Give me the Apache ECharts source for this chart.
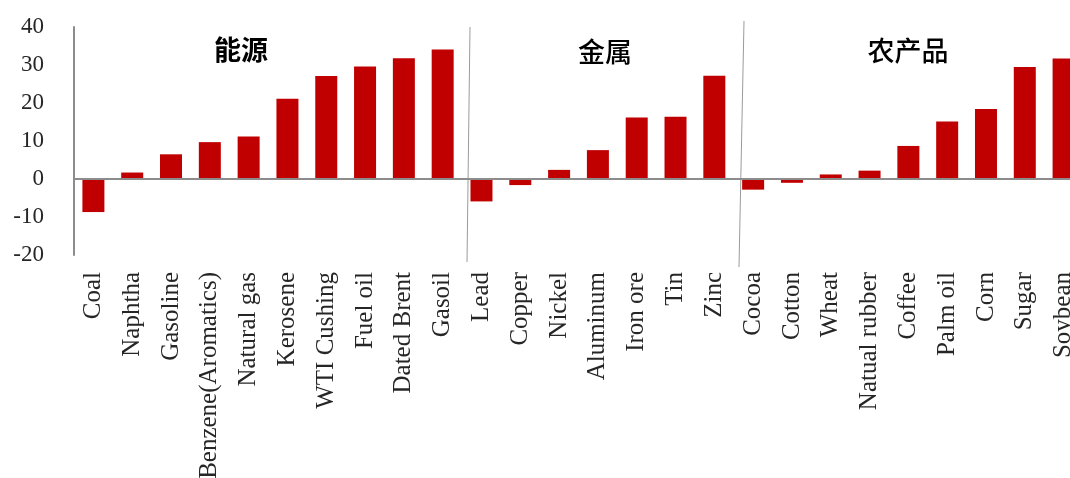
<!DOCTYPE html>
<html>
<head>
<meta charset="utf-8">
<script src="https://cdn.jsdelivr.net/npm/echarts@6/dist/echarts.min.js"></script>
<style>
html,body{margin:0;padding:0;background:#fff;overflow:hidden;width:1070px;height:478px;}
#chart{width:1090px;height:478px;}
</style>
</head>
<body>
<div id="chart"></div>
<script>
const categories = ['Coal','Naphtha','Gasoline','Benzene(Aromatics)','Natural gas','Kerosene','WTI Cushing','Fuel oil','Dated Brent','Gasoil',
  'Lead','Copper','Nickel','Aluminum','Iron ore','Tin','Zinc',
  'Cocoa','Cotton','Wheat','Natual rubber','Coffee','Palm oil','Corn','Sugar','Soybean'];
const values = [-8.7, 1.7, 6.5, 9.7, 11.2, 21.1, 27.1, 29.6, 31.8, 34.1,
  -5.9, -1.6, 2.4, 7.6, 16.2, 16.4, 27.2,
  -2.8, -1.0, 1.2, 2.2, 8.7, 15.1, 18.4, 29.5, 31.7];
const groupNames = ['能源','金属','农产品'];
const yTicks = [-20, -10, 0, 10, 20, 30, 40];

const serif = '"Liberation Serif","DejaVu Serif",serif';
const cjk = '"Noto Sans CJK SC",sans-serif';
const chart = echarts.init(document.getElementById('chart'), null, {renderer:'canvas'});
chart.setOption({
  animation:false,
  grid:{left:74, top:27, height:228, width:1009, containLabel:false, outerBoundsMode:'none'},
  xAxis:{
    type:'category', data:categories,
    axisLine:{show:false, onZero:false},
    axisTick:{show:false},
    axisLabel:{rotate:90, fontFamily:serif, fontSize:25, color:'#262626', margin:17, interval:0}
  },
  yAxis:{
    type:'value', min:yTicks[0], max:yTicks[yTicks.length-1], interval:10,
    axisLine:{show:true, lineStyle:{color:'#8c8c8c', width:2}},
    axisTick:{show:false},
    splitLine:{show:false},
    axisLabel:{fontFamily:serif, fontSize:23, color:'#262626', margin:30}
  },
  series:[{
    type:'bar', data:values, barWidth:22,
    itemStyle:{color:'#C00000'},
    markLine:{
      silent:true, symbol:['none','none'],
      label:{show:false},
      lineStyle:{color:'#8c8c8c', width:2, type:'solid'},
      data:[{yAxis:0}]
    }
  }],
  graphic:[
    {type:'line', shape:{x1:470,y1:27,x2:467,y2:262}, style:{stroke:'#9a9a9a', lineWidth:1}},
    {type:'line', shape:{x1:744,y1:21,x2:739,y2:267}, style:{stroke:'#9a9a9a', lineWidth:1}},
    {type:'text', x:241, y:50, style:{text:groupNames[0], font:'bold 27px '+cjk, fill:'#000', align:'center', verticalAlign:'middle'}},
    {type:'text', x:605, y:52, style:{text:groupNames[1], font:'500 27px '+cjk, fill:'#000', align:'center', verticalAlign:'middle'}},
    {type:'text', x:908, y:51, style:{text:groupNames[2], font:'500 27px '+cjk, fill:'#000', align:'center', verticalAlign:'middle'}}
  ]
});
</script>
</body>
</html>
